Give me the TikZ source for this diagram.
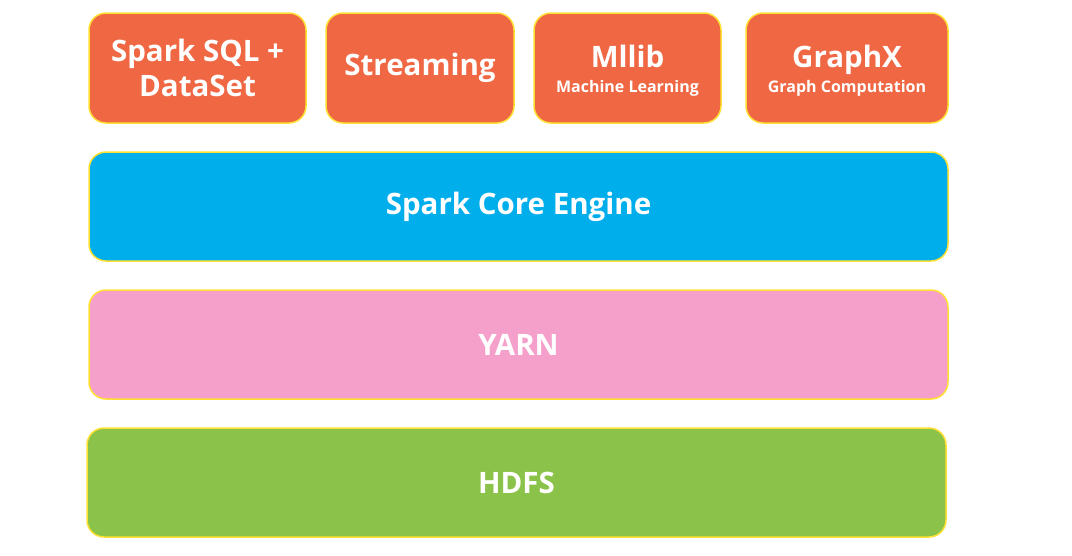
\documentclass[tikz,border=0pt]{standalone}
\usepackage{fontspec}
\setmainfont{Open Sans}
\definecolor{sparkorange}{HTML}{F06744}
\definecolor{coreblue}{HTML}{00AEEC}
\definecolor{yarnpink}{HTML}{F59FCB}
\definecolor{hdfsgreen}{HTML}{8BC34A}
\definecolor{rimyellow}{HTML}{FFE033}
\newcommand{\libsub}[1]{{\fontsize{16}{19}\selectfont #1}}
\tikzset{
  layer/.style={draw=rimyellow, line width=1.5pt, rounded corners=17pt,
    text=white, font=\bfseries\fontsize{29.5}{35}\selectfont, align=center,
    inner sep=0pt}
}
\begin{document}
\begin{tikzpicture}[x=1pt,y=-1pt]
        \useasboundingbox (0,0) rectangle (1072,555);
        %% Libraries
        \node[layer, fill=sparkorange, minimum width=217pt, minimum height=110pt] (sql) at (197.5,68) {Spark SQL +\\DataSet};
        \node[layer, fill=sparkorange, minimum width=188pt, minimum height=110pt] (streaming) at (420,68) {Streaming};
        \node[layer, fill=sparkorange, minimum width=187pt, minimum height=110pt] (mllib) at (627.5,68) {\rule{0pt}{27pt}Mllib\\[-10pt]\libsub{Machine Learning}};
        \node[layer, fill=sparkorange, minimum width=202pt, minimum height=110pt] (graphx) at (847,68) {\rule{0pt}{27pt}GraphX\\[-10pt]\libsub{Graph Computation}};
        %% Core
        \node[layer, fill=coreblue, minimum width=859pt, minimum height=109pt] (core) at (518.5,206.5) {Spark Core Engine};
        %% Resource manager
        \node[layer, fill=yarnpink, minimum width=859pt, minimum height=109pt] (yarn) at (518.5,344.5) {YARN};
        %% Storage
        \node[layer, fill=hdfsgreen, minimum width=859pt, minimum height=109pt] (hdfs) at (516.5,482.5) {HDFS};
    \end{tikzpicture}
\end{document}
